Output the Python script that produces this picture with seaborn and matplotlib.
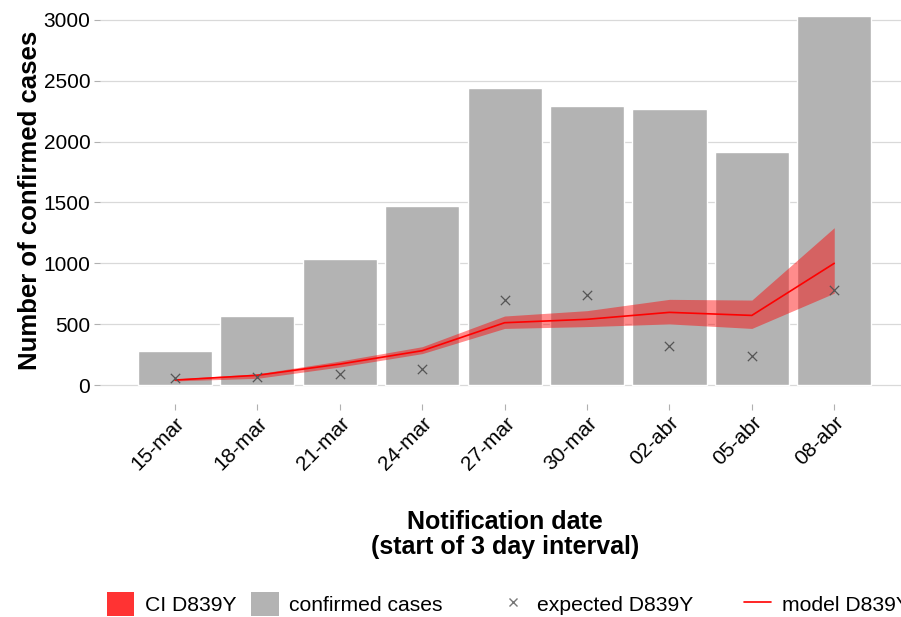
import numpy as np
import pandas as pd
import matplotlib.pyplot as plt
from matplotlib.patches import Patch
from matplotlib.lines import Line2D
import seaborn as sns

# values
dates = ["15-mar", "18-mar", "21-mar", "24-mar", "27-mar", "30-mar", "02-abr", "05-abr", "08-abr"]
confirmed = [279, 567, 1035, 1471, 2440, 2292, 2268, 1915, 3032]
expected = [60, 68, 90, 134, 698, 740, 323, 238, 780]
model = [41, 80, 172, 282, 512, 540, 597, 572, 1000]
ci_low = [34, 55, 148, 258, 465, 480, 502, 465, 755]
ci_high = [50, 92, 197, 315, 567, 611, 704, 698, 1293]

sns.set_theme(style="white")
plt.rcParams['font.family'] = ['Liberation Sans', 'DejaVu Sans']
plt.rcParams['text.color'] = 'black'
plt.rcParams['axes.labelcolor'] = 'black'
plt.rcParams['xtick.color'] = 'black'
plt.rcParams['ytick.color'] = 'black'

df = pd.DataFrame({"date": dates, "confirmed": confirmed, "expected": expected,
                   "model": model, "lo": ci_low, "hi": ci_high})
df["pos"] = np.arange(len(dates))

fig = plt.figure(figsize=(9.01, 6.17), dpi=100)
ax = fig.add_axes([0.111, 0.346, 0.889, 0.658])

sns.barplot(data=df, x="date", y="confirmed", color="#b3b3b3", saturation=1,
            width=0.9, ax=ax, zorder=2)
ax.fill_between(df["pos"], df["lo"], df["hi"], color="#ff0000", alpha=0.45,
                linewidth=0, zorder=3)
sns.lineplot(data=df, x="pos", y="model", color="#ff0000", linewidth=1.2, ax=ax, zorder=4)
sns.scatterplot(data=df, x="pos", y="expected", marker="x", color="#555555", s=45,
                linewidth=0.9, ax=ax, zorder=5)

ax.set_xlim(-0.91, 8.81)
ax.set_ylim(-152, 3184)
ax.set_yticks([0, 500, 1000, 1500, 2000, 2500, 3000])
ax.set_xticks(df["pos"])
ax.set_xticklabels(dates, rotation=45, ha="right", rotation_mode="anchor", fontsize=15)
ax.tick_params(axis="y", labelsize=15)
ax.tick_params(axis="both", length=4, width=0.8, color="#b0b0b0", pad=3, bottom=True, left=True,
               labelcolor="black")
ax.grid(axis="y", color="#d9d9d9", linewidth=0.9, zorder=0)
ax.set_axisbelow(True)
for s in ax.spines.values():
    s.set_visible(False)

ax.set_ylabel("Number of confirmed cases", fontsize=18.5, fontweight="bold")
ax.set_xlabel("Notification date\n(start of 3 day interval)", fontsize=18, fontweight="bold",
              linespacing=1.05)
ax.xaxis.set_label_coords(0.506, -0.262)
ax.yaxis.set_label_coords(-0.073, 0.5)

h_bars = [
    Patch(facecolor="#ff3333", edgecolor="none", label="CI D839Y"),
    Patch(facecolor="#b3b3b3", edgecolor="none", label="confirmed cases"),
]
h_lines = [
    Line2D([], [], marker="x", color="#777777", linestyle="none", markersize=6, label="expected D839Y"),
    Line2D([], [], color="#ff0000", linewidth=1.2, label="model D839Y"),
]
leg_kw = dict(loc="center left", ncol=2, frameon=False, fontsize=15.2, handlelength=1.3,
              handleheight=1.3, handletextpad=0.5, borderpad=0, borderaxespad=0)
fig.legend(handles=h_bars, bbox_to_anchor=(107 / 901, 1 - 604 / 617),
           columnspacing=0.7, **leg_kw)
fig.legend(handles=h_lines, bbox_to_anchor=(499 / 901, 1 - 604 / 617),
           columnspacing=2.4, **leg_kw)

fig.savefig("out.png", dpi=100)
